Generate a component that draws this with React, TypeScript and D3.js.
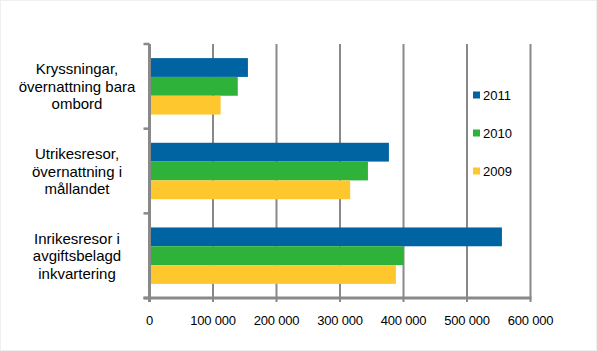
import React from "react";
import * as d3 from "d3";

const categories = [
  "Kryssningar, övernattning bara ombord",
  "Utrikesresor, övernattning i mållandet",
  "Inrikesresor i avgiftsbelagd inkvartering",
];
const categoryLines = [
  ["Kryssningar,", "övernattning bara", "ombord"],
  ["Utrikesresor,", "övernattning i", "mållandet"],
  ["Inrikesresor i", "avgiftsbelagd", "inkvartering"],
];
const seriesNames = ["2011", "2010", "2009"];
const values2011 = [155000, 377000, 555000];
const values2010 = [139000, 344000, 400000];
const values2009 = [112000, 316000, 388000];
const seriesValues = [values2011, values2010, values2009];
const seriesColors = ["#0063a2", "#2fb239", "#fec72e"];
const xTicks = [0, 100000, 200000, 300000, 400000, 500000, 600000];
const xTickLabels = ["0", "100 000", "200 000", "300 000", "400 000", "500 000", "600 000"];

const W = 597;
const H = 351;
const left = 149.5;
const right = 530.5;
const top = 44;
const bottom = 298;
const grid = "#898989";
const font = "'Liberation Sans', Arial, sans-serif";

export default function App() {
  const x = d3.scaleLinear().domain([0, 600000]).range([left, right]);
  const y = d3.scaleBand<string>().domain(categories).range([top, bottom]).padding(0);
  const ys = d3
    .scaleBand<string>()
    .domain(seriesNames)
    .range([0, y.bandwidth()])
    .paddingInner(0)
    .paddingOuter(0.75);

  const catEdges = [...categories.map((c) => y(c) as number), bottom];

  return (
    <svg
      width={W}
      height={H}
      style={{ position: "absolute", left: 0, top: 0, background: "#fff" }}
      fontFamily={font}
    >
      <rect x={0.5} y={0.5} width={W - 1} height={H - 1} fill="#fff" stroke="#efefef" />
      {/* gridlines */}
      {xTicks.slice(1).map((t) => (
        <line key={t} x1={x(t)} x2={x(t)} y1={top} y2={bottom + 4} stroke={grid} strokeWidth={2} />
      ))}
      {/* bars */}
      {categories.map((c, ci) =>
        seriesNames.map((s, si) => (
          <rect
            key={c + s}
            x={x(0)}
            y={(y(c) as number) + (ys(s) as number)}
            width={x(seriesValues[si][ci]) - x(0)}
            height={ys.bandwidth()}
            fill={seriesColors[si]}
          />
        ))
      )}
      {/* axes */}
      <line x1={left} x2={left} y1={top} y2={bottom + 4} stroke={grid} strokeWidth={3} />
      <line x1={left - 6} x2={right + 1} y1={bottom} y2={bottom} stroke={grid} strokeWidth={3} />
      {catEdges.map((e, i) => (
        <line key={i} x1={left - 6} x2={left} y1={e} y2={e} stroke={grid} strokeWidth={2.5} />
      ))}
      {/* x tick labels */}
      {xTicks.map((t, i) => (
        <text
          key={t}
          x={x(t)}
          y={320}
          textAnchor="middle"
          dominantBaseline="central"
          fontSize={13}
          letterSpacing={-0.2}
          fill="#000"
        >
          {xTickLabels[i]}
        </text>
      ))}
      {/* category labels */}
      {categories.map((c, ci) => {
        const cy = (y(c) as number) + y.bandwidth() / 2;
        return categoryLines[ci].map((line, li) => (
          <text
            key={c + li}
            x={77}
            y={cy + (li - 1) * 17.5}
            textAnchor="middle"
            dominantBaseline="central"
            fontSize={15}
            fill="#000"
          >
            {line}
          </text>
        ));
      })}
      {/* legend */}
      {seriesNames.map((s, i) => (
        <g key={s} transform={`translate(473, ${95 + i * 38})`}>
          <rect x={0} y={-3.5} width={7} height={7} fill={seriesColors[i]} />
          <text x={10} y={0} dominantBaseline="central" fontSize={13} fill="#000">
            {s}
          </text>
        </g>
      ))}
    </svg>
  );
}
